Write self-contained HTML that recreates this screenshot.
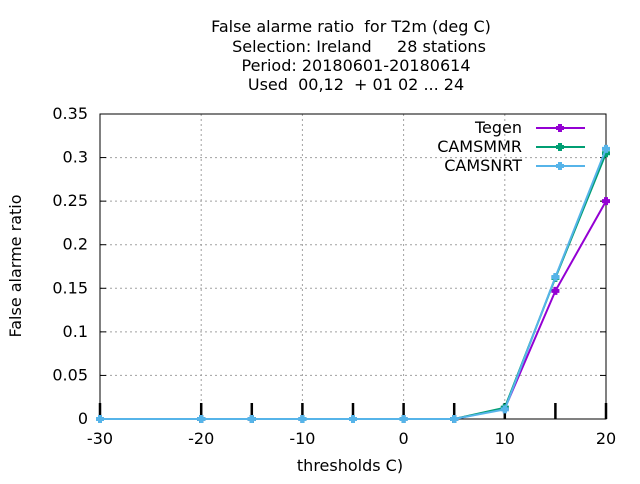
<!DOCTYPE html>
<html><head><meta charset="utf-8"><style>
body{margin:0;background:#fff;font-family:"DejaVu Sans",sans-serif}
svg text{font-family:"DejaVu Sans",sans-serif;font-size:16px;fill:#000}
</style></head><body>
<svg id="c" width="640" height="480">
<g>
<text x="351" y="32" text-anchor="middle" xml:space="preserve">False alarme ratio  for T2m (deg C)</text>
<text x="359" y="52" text-anchor="middle" xml:space="preserve">Selection: Ireland     28 stations</text>
<text x="356" y="71" text-anchor="middle">Period: 20180601-20180614</text>
<text x="356" y="90" text-anchor="middle" xml:space="preserve">Used  00,12  + 01 02 ... 24</text>
</g>
<text x="350" y="471" text-anchor="middle">thresholds C)</text>
<text transform="translate(21,266) rotate(-90)" text-anchor="middle">False alarme ratio</text>
<g id="grid"></g><g id="axes"></g><g id="series"></g><g id="legend"></g>
</svg>
<script>
const xTicks=[-30,-20,-10,0,10,20];
const yTicks=[0,0.05,0.1,0.15,0.2,0.25,0.3,0.35];
const yTickLabels=["0","0.05","0.1","0.15","0.2","0.25","0.3","0.35"];
const thresholds=[-30,-20,-15,-10,-5,0,5,10,15,20];
const seriesNames=["Tegen","CAMSMMR","CAMSNRT"];
const tegen=[0,0,0,0,0,0,0,0.012,0.147,0.25];
const camsmmr=[0,0,0,0,0,0,0,0.013,0.162,0.305];
const camsnrt=[0,0,0,0,0,0,0,0.011,0.163,0.31];
const colors=["#9400d3","#009e73","#56b4e9"];
const NS="http://www.w3.org/2000/svg";
const L=100,R=606,T=114,B=419;
const X=v=>L+(v+30)/50*(R-L), Y=v=>B-v/0.35*(B-T);
function mk(p,tag,a){const e=document.createElementNS(NS,tag);for(const k in a)e.setAttribute(k,a[k]);document.getElementById(p).appendChild(e);return e;}
xTicks.forEach(v=>{
 let g=mk('grid','line',{x1:X(v),x2:X(v),y1:T,y2:B,stroke:'#a0a0a0','stroke-dasharray':'2,3'});
 
 
 let t=mk('axes','text',{x:X(v),y:B+25,'text-anchor':'middle'});t.textContent=v;
 
 
});
yTicks.forEach((v,i)=>{
 if(i>0&&i<yTicks.length-1){let g=mk('grid','line',{x1:L,x2:R,y1:Y(v),y2:Y(v),stroke:'#a0a0a0','stroke-dasharray':'2,3'});
 
 }
 mk('axes','line',{x1:L,x2:L+6,y1:Y(v),y2:Y(v),stroke:'#000'});
 mk('axes','line',{x1:R,x2:R-6,y1:Y(v),y2:Y(v),stroke:'#000'});
 let t=mk('axes','text',{x:L-12,y:Y(v)+5,'text-anchor':'end'});t.textContent=yTickLabels[i];
 
 
});
thresholds.forEach(v=>{mk('axes','line',{x1:X(v),x2:X(v),y1:B,y2:B-16,stroke:'#000','stroke-width':2.5});});
let fr=mk('axes','rect',{x:L,y:T,width:R-L,height:B-T,fill:'none',stroke:'#000'});


function marker(p,x,y,c){mk(p,'path',{d:`M${x-2},${y-4}h4v2h2v4h-2v2h-4v-2h-2v-4h2z`,fill:c});}
[tegen,camsmmr,camsnrt].forEach((d,s)=>{
 let pl=mk('series','polyline',{points:thresholds.map((t,i)=>X(t)+','+Y(d[i])).join(' '),fill:'none',stroke:colors[s],'stroke-width':2});
 
 
 thresholds.forEach((t,i)=>marker('series',X(t),Y(d[i]),colors[s]));
 const ly=128+s*19;
 let tx=mk('legend','text',{x:522,y:ly+5,'text-anchor':'end'});tx.textContent=seriesNames[s];
 
 
 mk('legend','line',{x1:536,x2:585,y1:ly,y2:ly,stroke:colors[s],'stroke-width':2});
 marker('legend',560,ly,colors[s]);
});
</script>
</body></html>
